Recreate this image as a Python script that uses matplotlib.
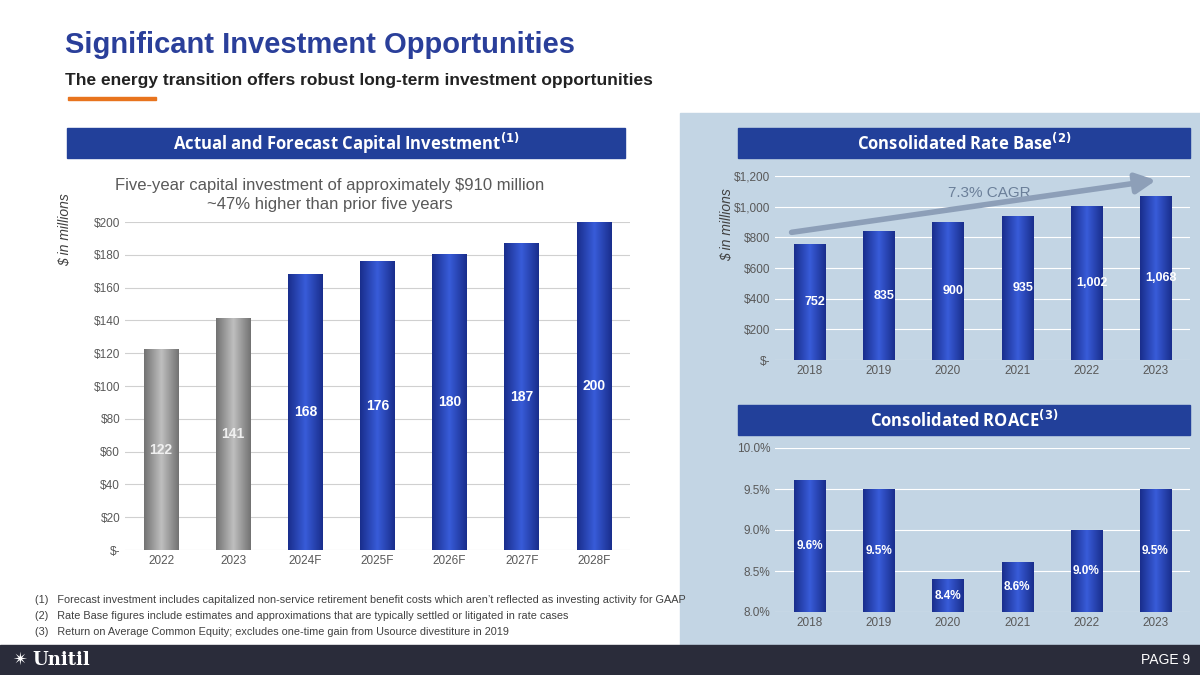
import numpy as np
import matplotlib
matplotlib.use("Agg")
import matplotlib.pyplot as plt
from matplotlib.patches import Rectangle

plt.rcParams['font.family'] = ['Liberation Sans', 'DejaVu Sans']

cap_years = ["2022", "2023", "2024F", "2025F", "2026F", "2027F", "2028F"]
cap_values = [122, 141, 168, 176, 180, 187, 200]
cap_actual = [True, True, False, False, False, False, False]

rb_years = ["2018", "2019", "2020", "2021", "2022", "2023"]
rb_values = [752, 835, 900, 935, 1002, 1068]

roace_years = ["2018", "2019", "2020", "2021", "2022", "2023"]
roace_values = [9.6, 9.5, 8.4, 8.6, 9.0, 9.5]

W, H = 1200, 675
fig = plt.figure(figsize=(12, 6.75), dpi=100)
fig.patch.set_facecolor("white")


def box(x, y, w, h):
    return [x / W, 1 - (y + h) / H, w / W, h / H]


def pt(x, y):
    return x / W, 1 - y / H


def rect(x, y, w, h, color, z):
    # x, y = top-left in pixels
    fig.add_artist(Rectangle(pt(x, y + h), w / W, h / H, transform=fig.transFigure, color=color, zorder=z))


blue_grad = np.array([[0.10, 0.18, 0.55], [0.22, 0.36, 0.85], [0.10, 0.18, 0.55]])
gray_grad = np.array([[0.45, 0.45, 0.45], [0.75, 0.75, 0.75], [0.45, 0.45, 0.45]])


def grad_bars(ax, xs, vals, base, colors, width=0.45):
    t = np.linspace(0, 1, 64)
    for x, v, g in zip(xs, vals, colors):
        img = np.array([np.interp(t, [0, 0.5, 1], g[:, k]) for k in range(3)]).T[None, :, :]
        ax.imshow(img, extent=[x - width / 2, x + width / 2, base, v], aspect="auto", zorder=2)
    ax.set_xlim(-0.5, len(xs) - 0.5)


def style(ax, fc, gc):
    ax.set_zorder(5)
    ax.set_facecolor(fc)
    for s in ax.spines.values():
        s.set_visible(False)
    ax.tick_params(length=0, colors="#595959", labelsize=8.5)
    ax.grid(axis="y", color=gc, lw=0.8, zorder=0)
    ax.set_axisbelow(True)


rect(680, 113, 520, 532, "#c3d5e4", 0)
rect(0, 645, 1200, 30, "#2a2c3a", 0)
rect(68, 97, 88, 3, "#e8741e", 1)

fig.text(*pt(65, 45), "Significant Investment Opportunities", fontsize=21, fontweight="bold", color="#2a3f9a", va="center")
fig.text(*pt(65, 80), "The energy transition offers robust long-term investment opportunities", fontsize=12.5, fontweight="bold", color="#222222", va="center")
fig.text(*pt(12, 660), "\u2734", fontsize=13, color="white", va="center", family=["DejaVu Sans"])
fig.text(*pt(32, 660), "Unitil", fontsize=13, fontweight="bold", color="white", va="center", family=["DejaVu Serif"])
fig.text(*pt(1190, 660), "PAGE 9", fontsize=10, color="white", va="center", ha="right")

hdr = dict(fontsize=12, fontweight="bold", color="white", ha="center", va="center", family=["Open Sans", "DejaVu Sans"], zorder=3)
for (x, y, w, h, t) in [(67, 128, 558, 30, r"Actual and Forecast Capital Investment$^{\mathbf{(1)}}$"),
                        (738, 128, 452, 30, r"Consolidated Rate Base$^{\mathbf{(2)}}$"),
                        (738, 405, 452, 30, r"Consolidated ROACE$^{\mathbf{(3)}}$")]:
    rect(x, y, w, h, "#22409a", 2)
    fig.text(*pt(x + w / 2, y + h / 2), t, **hdr)

# left chart
ax1 = fig.add_axes(box(125, 222, 505, 328))
style(ax1, "white", "#d0d0d0")
xs = np.arange(len(cap_years))
grad_bars(ax1, xs, cap_values, 0, [gray_grad if a else blue_grad for a in cap_actual], width=0.48)
ax1.set_ylim(0, 200)
ax1.set_yticks(range(0, 201, 20))
ax1.set_yticklabels(["$-"] + [f"${v}" for v in range(20, 201, 20)])
ax1.set_xticks(xs)
ax1.set_xticklabels(cap_years)
for x, v, a in zip(xs, cap_values, cap_actual):
    ax1.text(x, v / 2, str(v), ha="center", va="center", fontsize=10, fontweight="bold",
             color="#f0f0f0" if a else "white", zorder=3)
fig.text(*pt(65, 230), "$ in millions", rotation=90, fontsize=10, style="italic", color="#404040", ha="center", va="center")
fig.text(*pt(330, 195), "Five-year capital investment of approximately $910 million\n~47% higher than prior five years",
         fontsize=12, color="#595959", ha="center", va="center", linespacing=1.4)

# rate base
ax2 = fig.add_axes(box(775, 176, 415, 184))
style(ax2, "#c3d5e4", "white")
xs = np.arange(len(rb_years))
grad_bars(ax2, xs, rb_values, 0, [blue_grad] * len(xs), width=0.45)
ax2.set_ylim(0, 1200)
ax2.set_yticks(range(0, 1201, 200))
ax2.set_yticklabels(["$-"] + [f"${v:,}" for v in range(200, 1201, 200)])
ax2.set_xticks(xs)
ax2.set_xticklabels(rb_years)
for x, v in zip(xs, rb_values):
    ax2.text(x + 0.08, v / 2, f"{v:,}", ha="center", va="center", fontsize=9, fontweight="bold", color="white", zorder=3)
ax2.annotate("", xy=(5.05, 1175), xytext=(-0.3, 830),
             arrowprops=dict(arrowstyle="-|>,head_width=0.6,head_length=1.2", lw=4, color="#8d9fb8"), zorder=4)
ax2.text(2.6, 1090, "7.3% CAGR", fontsize=11, color="#6b7f99", ha="center", va="center")
fig.text(*pt(727, 225), "$ in millions", rotation=90, fontsize=10, style="italic", color="#404040", ha="center", va="center")

# ROACE
ax3 = fig.add_axes(box(775, 448, 415, 164))
style(ax3, "#c3d5e4", "white")
xs = np.arange(len(roace_years))
grad_bars(ax3, xs, roace_values, 8.0, [blue_grad] * len(xs), width=0.45)
ax3.set_ylim(8.0, 10.0)
ax3.set_yticks([8.0, 8.5, 9.0, 9.5, 10.0])
ax3.set_yticklabels(["8.0%", "8.5%", "9.0%", "9.5%", "10.0%"])
ax3.set_xticks(xs)
ax3.set_xticklabels(roace_years)
for x, v in zip(xs, roace_values):
    ax3.text(x, 8.0 + (v - 8.0) / 2, f"{v:.1f}%", ha="center", va="center", fontsize=8.5, fontweight="bold", color="white", zorder=3)

notes = ["(1)   Forecast investment includes capitalized non-service retirement benefit costs which aren\u2019t reflected as investing activity for GAAP",
         "(2)   Rate Base figures include estimates and approximations that are typically settled or litigated in rate cases",
         "(3)   Return on Average Common Equity; excludes one-time gain from Usource divestiture in 2019"]
for i, n in enumerate(notes):
    fig.text(*pt(35, 600 + i * 16), n, fontsize=7.8, color="#404040", va="center", zorder=6)

fig.savefig("out.png", dpi=100)
